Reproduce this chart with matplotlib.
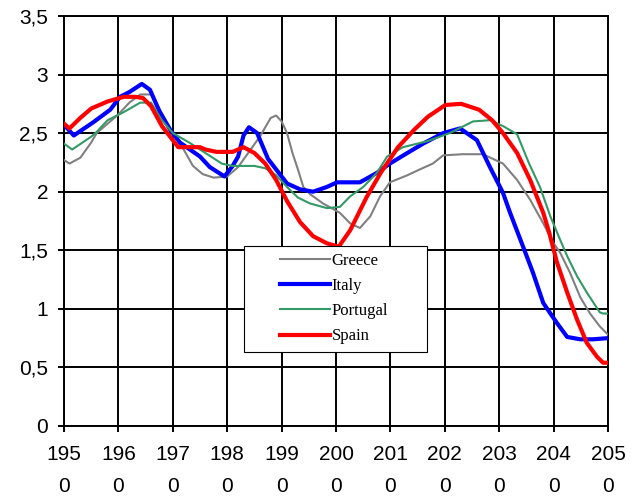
import matplotlib
matplotlib.use("Agg")
import matplotlib.pyplot as plt
from matplotlib.patches import Rectangle

# values
greece_years = [1950, 1951, 1953, 1955, 1956, 1958, 1960, 1962, 1964, 1966, 1968, 1970,
                1972, 1973.7, 1975.5, 1977.5, 1980, 1982, 1984, 1986, 1988, 1989, 1990,
                1991, 1992, 1993, 1994, 1995.2, 1997.6, 2000.7, 2002.6, 2004.4, 2006.3,
                2008.1, 2009.9, 2013.1, 2015.4, 2017.8, 2019.7, 2023.3, 2027, 2030.7,
                2033.3, 2035.7, 2038.1, 2040, 2041.2, 2043, 2044.9, 2046.7, 2048.5, 2050]
greece = [2.27, 2.24, 2.29, 2.42, 2.50, 2.58, 2.66, 2.76, 2.83, 2.83, 2.67, 2.50,
          2.36, 2.22, 2.15, 2.12, 2.13, 2.21, 2.34, 2.47, 2.63, 2.65, 2.60,
          2.50, 2.33, 2.19, 2.04, 1.98, 1.90, 1.82, 1.73, 1.69, 1.79,
          1.96, 2.08, 2.14, 2.19, 2.24, 2.31, 2.32, 2.32, 2.24,
          2.10, 1.93, 1.73, 1.56, 1.48, 1.31, 1.10, 0.96, 0.85, 0.78]

italy_years = [1950, 1951.8, 1955.3, 1958.5, 1960.3, 1962, 1964.3, 1965.8, 1967.6, 1969.5,
               1971.3, 1975, 1976.8, 1979.5, 1981, 1982, 1983, 1984, 1985.5, 1987.5, 1991,
               1993.4, 1995.8, 1998.3, 2000.2, 2004.4, 2007.5, 2009.9, 2013.1, 2016,
               2019.7, 2022.8, 2025.9, 2028.3, 2030.7, 2032, 2034.4, 2036.2, 2038.1,
               2040.6, 2042.5, 2044.9, 2047.2, 2050]
italy = [2.57, 2.48, 2.59, 2.70, 2.81, 2.85, 2.92, 2.87, 2.68, 2.53,
         2.42, 2.30, 2.21, 2.13, 2.22, 2.30, 2.48, 2.55, 2.50, 2.28, 2.07,
         2.02, 2.00, 2.04, 2.08, 2.08, 2.16, 2.24, 2.33, 2.41,
         2.50, 2.54, 2.44, 2.21, 1.99, 1.82, 1.53, 1.31, 1.05,
         0.88, 0.76, 0.74, 0.74, 0.75]

portugal_years = [1950, 1951.5, 1955, 1956, 1958, 1961, 1964, 1966, 1968, 1970, 1973, 1976,
                  1979, 1981, 1985, 1987, 1989, 1991, 1993, 1995.2, 1998.3, 2000.7, 2002.6,
                  2005, 2007.5, 2009.4, 2012.3, 2016.7, 2020.9, 2025.2, 2028.3, 2030.7,
                  2033.3, 2035.5, 2037.5, 2039.4, 2041.2, 2042.5, 2044.3, 2046.1, 2048.5,
                  2049.1, 2050]
portugal = [2.41, 2.36, 2.47, 2.51, 2.61, 2.68, 2.76, 2.76, 2.61, 2.50, 2.42, 2.33,
            2.24, 2.22, 2.22, 2.20, 2.14, 2.04, 1.95, 1.90, 1.86, 1.87, 1.96,
            2.04, 2.16, 2.30, 2.38, 2.43, 2.50, 2.60, 2.61, 2.56,
            2.49, 2.24, 2.04, 1.79, 1.59, 1.45, 1.28, 1.14, 0.97,
            0.96, 0.96]

spain_years = [1950, 1951, 1953, 1955, 1958, 1961, 1963, 1964.5, 1966, 1968, 1970, 1971,
               1975, 1976, 1978, 1981, 1983, 1985, 1987, 1989, 1991, 1993.4, 1995.8,
               1998.3, 2000.5, 2002.6, 2005.7, 2008.2, 2011.4, 2014.4, 2016.9, 2020.1,
               2023, 2026.3, 2028.7, 2030.7, 2033.3, 2035.7, 2038.1, 2039.2, 2040.6,
               2042.5, 2044.3, 2046.1, 2048, 2049.1, 2050]
spain = [2.58, 2.54, 2.63, 2.71, 2.77, 2.81, 2.81, 2.80, 2.73, 2.56, 2.44, 2.38,
         2.38, 2.36, 2.34, 2.34, 2.38, 2.33, 2.24, 2.10, 1.92, 1.74, 1.62,
         1.56, 1.53, 1.67, 1.96, 2.16, 2.38, 2.53, 2.64, 2.74,
         2.75, 2.70, 2.61, 2.50, 2.33, 2.10, 1.82, 1.65, 1.40,
         1.14, 0.91, 0.71, 0.59, 0.54, 0.54]

x_ticks = list(range(1950, 2051, 10))
x_labels = [f"{y // 10}\n{y % 10}" for y in x_ticks]
y_ticks = [0, 0.5, 1, 1.5, 2, 2.5, 3, 3.5]
y_labels = ["0", "0,5", "1", "1,5", "2", "2,5", "3", "3,5"]

plt.rcParams['font.family'] = ['Liberation Sans', 'DejaVu Sans']

fig = plt.figure(figsize=(6.32, 4.99), dpi=100)
ax = fig.add_axes([0.1013, 0.1463, 0.8607, 0.8217])

ax.plot(greece_years, greece, color='#808080', lw=1.5, label='Greece', zorder=3)
ax.plot(italy_years, italy, color='#0000FF', lw=3, label='Italy', zorder=3)
ax.plot(portugal_years, portugal, color='#339966', lw=1.5, label='Portugal', zorder=3)
ax.plot(spain_years, spain, color='#FF0000', lw=3, label='Spain', zorder=3)

ax.set_xlim(1950, 2050)
ax.set_ylim(0, 3.5)
ax.set_xticks(x_ticks)
ax.set_xticklabels(x_labels, fontsize=15, linespacing=1.9)
ax.set_yticks(y_ticks)
ax.set_yticklabels(y_labels, fontsize=15)
ax.tick_params(axis='x', length=4.5, width=1.4, pad=9, color='black')
ax.tick_params(axis='y', length=4.5, width=1.4, pad=7, color='black')
ax.grid(True, color='black', lw=1.4)
ax.set_axisbelow(True)
for s in ax.spines.values():
    s.set_linewidth(1.4)
    s.set_color('black')

# legend box as in the original
ax.add_patch(Rectangle((0.331, 0.180), 0.336, 0.259, transform=ax.transAxes,
                       facecolor='white', edgecolor='black', lw=0.8, zorder=5))
leg = ax.legend(loc='upper left', bbox_to_anchor=(0.397, 0.422), frameon=False,
                borderpad=0, borderaxespad=0, handlelength=3.0, handletextpad=0.1,
                labelspacing=0.55, prop={'family': 'Liberation Serif', 'size': 12})
leg.set_zorder(6)

plt.savefig("out.png", dpi=100)
